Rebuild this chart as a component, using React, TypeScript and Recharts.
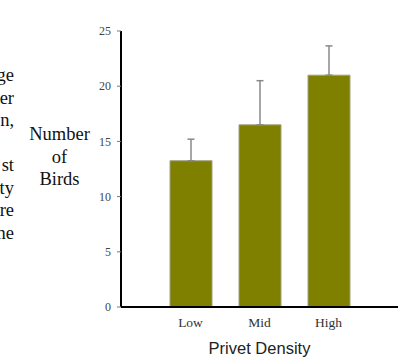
import { Bar, BarChart, ErrorBar, XAxis, YAxis } from "recharts";

const categories = ["Low", "Mid", "High"];
const birds = [13.25, 16.5, 21.0];
const errUp = [1.95, 4.0, 2.65];
const yTicks = [0, 5, 10, 15, 20, 25];
// clipped ends of the paragraph lines beside the chart
const sideText = ["ge", "er", "n,", "", "st", "ty", "re", "ne"];
const yLabelLines = ["Number", "of", "Birds"];

const data = categories.map((c, i) => ({ name: c, birds: birds[i], err: [0, errUp[i]] }));

const serif = "'Liberation Serif', 'Times New Roman', serif";

function BirdsLabel() {
  return (
    <text x={59.5} textAnchor="middle" fontFamily={serif} fontSize={18.5} fill="#111">
      {yLabelLines.map((l, i) => (
        <tspan key={l} x={59.5} y={140 + i * 22.5}>
          {l}
        </tspan>
      ))}
    </text>
  );
}

export default function App() {
  return (
    <div style={{ position: "relative", width: 402, height: 358 }}>
      <style>{"body{margin:0}"}</style>
      <svg width={402} height={358} style={{ position: "absolute", left: 0, top: 0 }}>
        {sideText.map((t, i) => (
          <text key={i} x={14} y={81 + i * 22.5} textAnchor="end" fontFamily={serif} fontSize={18.5} fill="#111">
            {t}
          </text>
        ))}
      </svg>
      <BarChart
        width={402}
        height={358}
        data={data}
        margin={{ top: 31, right: 4, bottom: 0, left: 0 }}
        style={{ position: "absolute", left: 0, top: 0 }}
      >
        <XAxis
          dataKey="name"
          height={51}
          padding={{ left: 35, right: 35 }}
          tickLine={false}
          tickSize={0}
          tickMargin={10}
          axisLine={{ stroke: "#000", strokeWidth: 2 }}
          tick={{ fill: "#333", fontSize: 13.5, fontFamily: serif }}
          label={{
            value: "Privet Density",
            position: "insideBottom",
            offset: 4,
            fill: "#222",
            fontSize: 16.5,
            fontFamily: "'Liberation Sans', Arial, sans-serif",
          }}
        />
        <YAxis
          width={121}
          domain={[0, 25]}
          ticks={yTicks}
          tickSize={4}
          tickMargin={6}
          axisLine={{ stroke: "#000", strokeWidth: 2 }}
          tickLine={{ stroke: "#777" }}
          tick={{ fill: "#444", fontSize: 12, fontFamily: serif }}
          label={{ content: BirdsLabel }}
        />
        <Bar dataKey="birds" barSize={42} fill="#808000" stroke="#a0a080" strokeWidth={1} isAnimationActive={false}>
          <ErrorBar dataKey="err" width={3.5} stroke="#888" strokeWidth={1.5} direction="y" />
        </Bar>
      </BarChart>
    </div>
  );
}
